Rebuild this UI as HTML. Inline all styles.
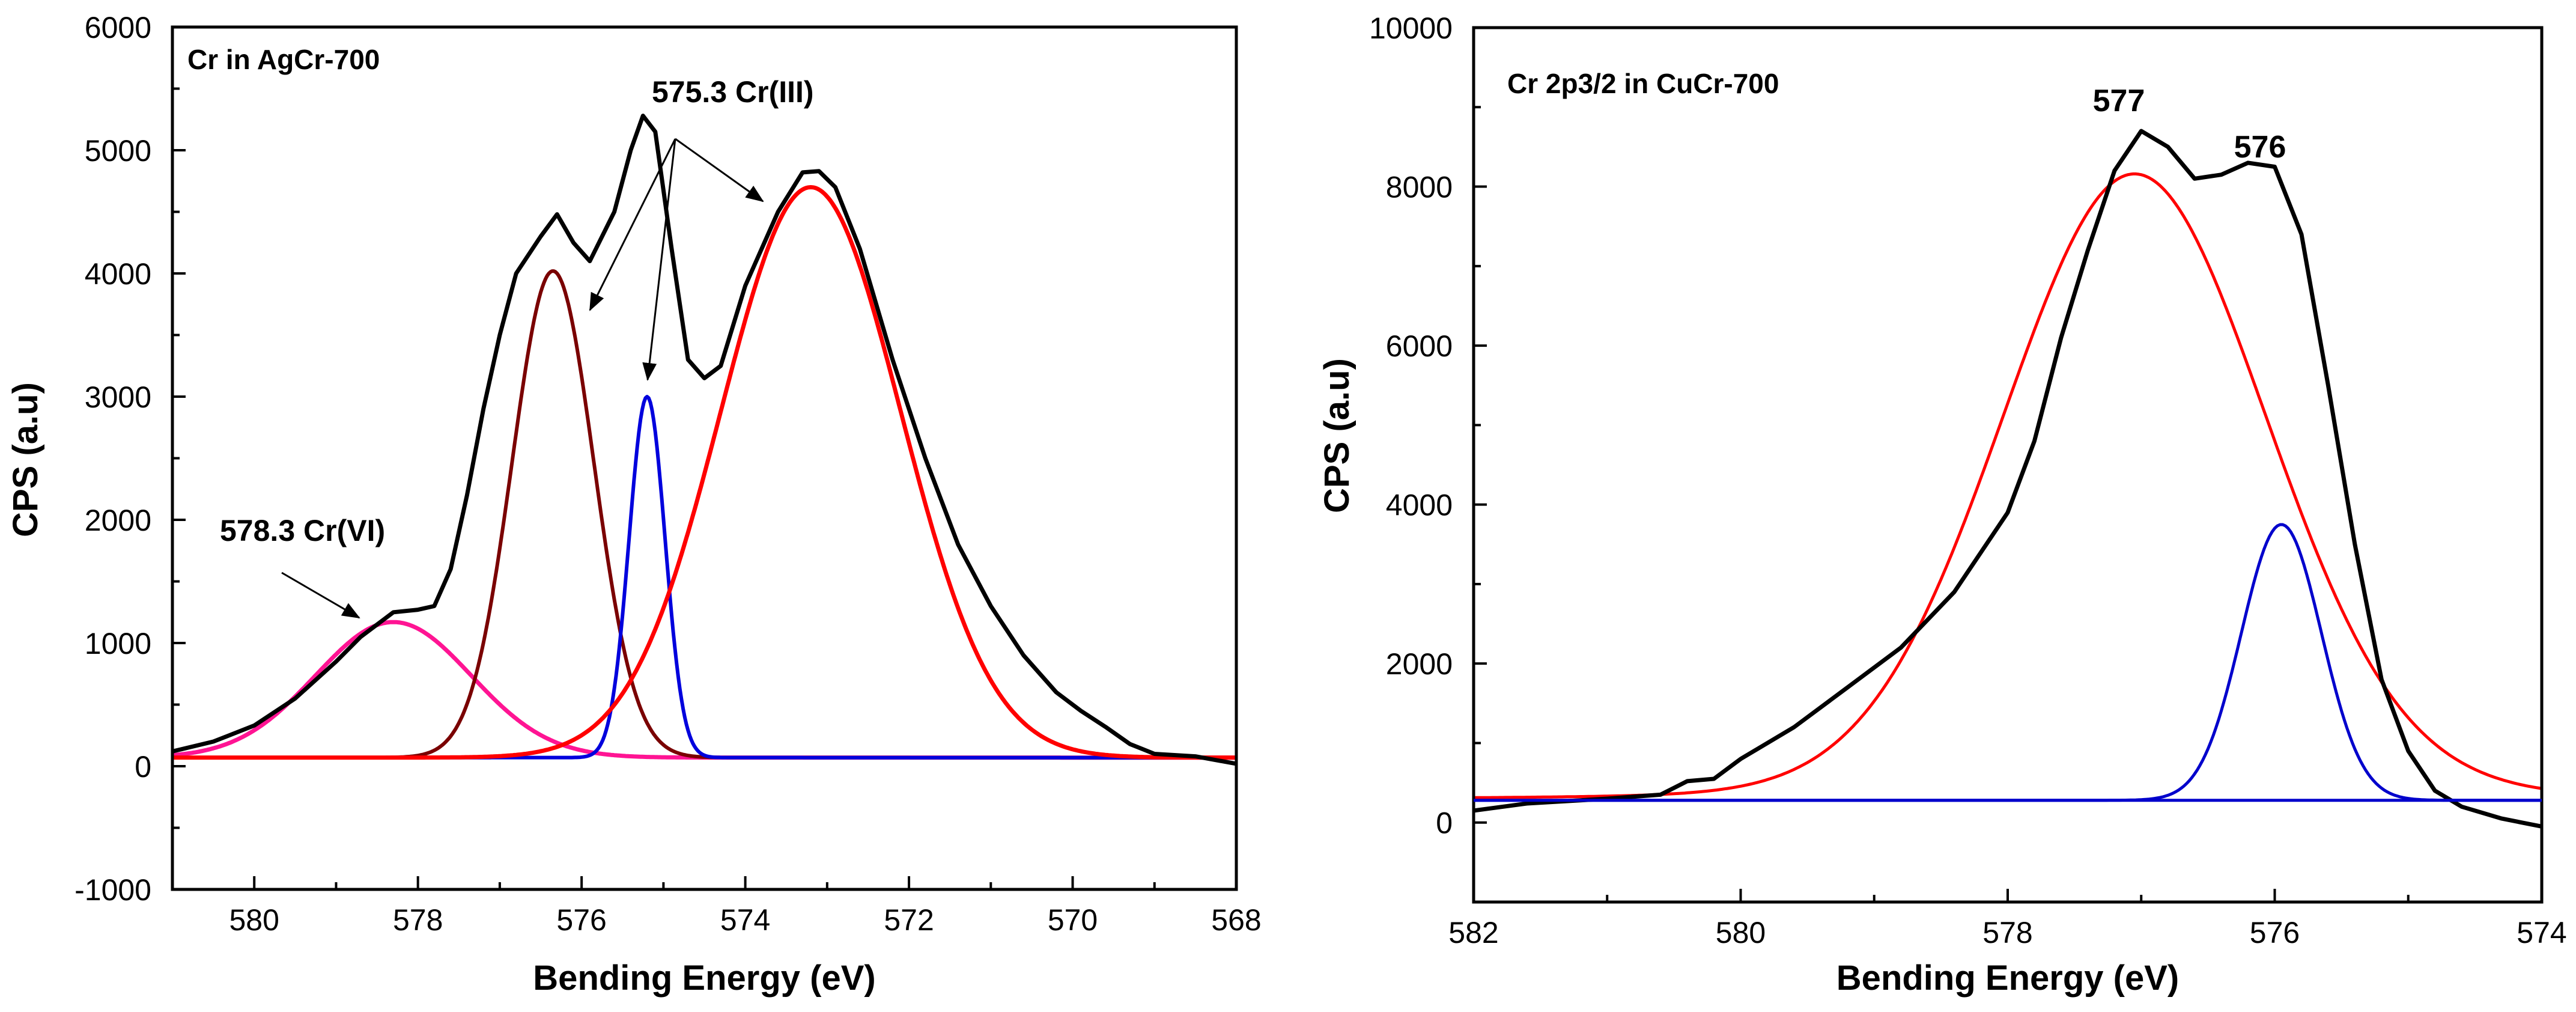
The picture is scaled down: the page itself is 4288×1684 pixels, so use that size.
<!DOCTYPE html>
<html><head><meta charset="utf-8"><style>
html,body{margin:0;padding:0;background:#fff;}
svg{display:block;font-family:"Liberation Sans",Arial,sans-serif;}
</style></head><body>
<svg id="chart" width="4288" height="1684" viewBox="0 0 4288 1684" xmlns="http://www.w3.org/2000/svg"></svg>
<script>
// ---- Left panel data (Cr in AgCr-700) ----
const leftBlackE = [581,580.5,580,579.5,579,578.7,578.5,578.3,578,577.8,577.6,577.4,577.2,577,576.8,576.5,576.3,576.1,575.9,575.6,575.4,575.25,575.1,574.9,574.7,574.5,574.3,574,573.6,573.3,573.1,572.9,572.6,572.2,571.8,571.4,571,570.6,570.2,569.9,569.6,569.3,569,568.5,568];
const leftBlackV = [120,200,330,550,850,1050,1150,1250,1270,1300,1600,2200,2900,3500,4000,4300,4480,4250,4100,4500,5000,5280,5150,4200,3300,3150,3250,3900,4500,4820,4830,4700,4200,3300,2500,1800,1300,900,600,450,320,180,100,80,20];
const leftPeakNames = ['pink-cr6','brown-peak','blue-peak','red-cr3'];
const leftCenters = [578.3,576.35,575.2,573.2];
const leftHeights = [1100,3950,2930,4630];
const leftSigmas = [0.95,0.5,0.22,1.1];
const leftColors = ['#ff1493','#7a0000','#0000dd','#ff0000'];
const leftBaseline = 70;
const leftYTicks = [-1000,0,1000,2000,3000,4000,5000,6000];
const leftXTicks = [580,578,576,574,572,570,568];
// ---- Right panel data (Cr 2p3/2 in CuCr-700) ----
const rightBlackE = [582,581.6,581.2,581,580.6,580.4,580.2,580,579.6,579.2,578.8,578.4,578,577.8,577.6,577.4,577.2,577,576.8,576.6,576.4,576.2,576,575.8,575.6,575.4,575.2,575,574.8,574.6,574.3,574];
const rightBlackV = [150,240,280,300,350,520,550,800,1200,1700,2200,2900,3900,4800,6100,7200,8200,8700,8500,8100,8150,8300,8250,7400,5500,3500,1800,900,400,200,50,-50];
const rightPeakNames = ['red-577','blue-576'];
const rightCenters = [577.05,575.95];
const rightHeights = [7880,3470];
const rightSigmas = [1.0,0.3];
const rightColors = ['#ff0000','#0000cc'];
const rightBaseline = 280;
const rightYTicks = [0,2000,4000,6000,8000,10000];
const rightXTicks = [582,580,578,576,574];

const NS='http://www.w3.org/2000/svg';
const svg=document.getElementById('chart');
function mk(tag,attrs,parent){const e=document.createElementNS(NS,tag);for(const k in attrs)e.setAttribute(k,attrs[k]);(parent||svg).appendChild(e);return e;}

function panel(cfg){
  const g=mk('g',{});
  
  
  const xs=e=>cfg.x0+(cfg.eMax-e)/(cfg.eMax-cfg.eMin)*(cfg.x1-cfg.x0);
  const ys=v=>cfg.y1-(v-cfg.vMin)/(cfg.vMax-cfg.vMin)*(cfg.y1-cfg.y0);
  const cid='clip-'+cfg.name;
  const defs=mk('defs',{},g);const cp=mk('clipPath',{id:cid},defs);
  mk('rect',{x:cfg.x0,y:cfg.y0,width:cfg.x1-cfg.x0,height:cfg.y1-cfg.y0},cp);
  const plot=mk('g',{'clip-path':'url(#'+cid+')'},g);
  for(let i=0;i<cfg.centers.length;i++){
    let d='';
    for(let e=cfg.eMax;e>=cfg.eMin-0.001;e-=0.02){
      const z=(e-cfg.centers[i])/cfg.sigmas[i];
      let v=Math.exp(-0.5*z*z);
      if(cfg.lor&&i===0){const L=1/(1+z*z*0.75);v=0.92*v+0.08*L;}
      v=cfg.baseline+cfg.heights[i]*v;
      d+=(d?'L':'M')+xs(e).toFixed(1)+','+ys(v).toFixed(1);
    }
    const p=mk('path',{d:d,fill:'none',stroke:cfg.colors[i],'stroke-width':cfg.cw[i],'stroke-linejoin':'round'},plot);
    
    
  }
  let d='';
  for(let i=0;i<cfg.bE.length;i++)d+=(i?'L':'M')+xs(cfg.bE[i]).toFixed(1)+','+ys(cfg.bV[i]).toFixed(1);
  const bp=mk('path',{d:d,fill:'none',stroke:'#000','stroke-width':7,'stroke-linejoin':'round'},plot);
  
  
  const box=mk('rect',{x:cfg.x0,y:cfg.y0,width:cfg.x1-cfg.x0,height:cfg.y1-cfg.y0,fill:'none',stroke:'#000','stroke-width':5},g);
  
  
  for(let i=0;i<cfg.yT.length;i++){
    const v=cfg.yT[i],y=ys(v);
    mk('line',{x1:cfg.x0,x2:cfg.x0+22,y1:y,y2:y,stroke:'#000','stroke-width':4},g);
    const t=mk('text',{x:cfg.x0-35,y:y+18,'font-size':50,'text-anchor':'end',fill:'#000'},g);
    t.textContent=v;
    
    
    if(i<cfg.yT.length-1){const ym=ys(v+cfg.yMinor);mk('line',{x1:cfg.x0,x2:cfg.x0+12,y1:ym,y2:ym,stroke:'#000','stroke-width':4},g);}
  }
  for(let i=0;i<cfg.xT.length;i++){
    const e=cfg.xT[i],x=xs(e);
    mk('line',{x1:x,x2:x,y1:cfg.y1,y2:cfg.y1-22,stroke:'#000','stroke-width':4},g);
    const t=mk('text',{x:x,y:cfg.y1+68,'font-size':50,'text-anchor':'middle',fill:'#000'},g);
    t.textContent=e;
    
    
    const em=e+1;
    if(em<cfg.eMax){const xm=xs(em);mk('line',{x1:xm,x2:xm,y1:cfg.y1,y2:cfg.y1-12,stroke:'#000','stroke-width':4},g);}
  }
  const xt=mk('text',{x:(cfg.x0+cfg.x1)/2,y:1647,'font-size':58,'font-weight':'bold','text-anchor':'middle'},g);
  xt.textContent='Bending Energy (eV)';
  
  
  const yt=mk('text',{x:0,y:0,'font-size':58,'font-weight':'bold','text-anchor':'middle',transform:'translate('+cfg.ytx+','+cfg.yty+') rotate(-90)'},g);
  yt.textContent='CPS (a.u)';
  
  
  return {g,xs,ys};
}

const L=panel({name:'left-panel',x0:287,x1:2058,y0:45,y1:1480,eMax:581,eMin:568,vMin:-1000,vMax:6000,
  centers:leftCenters,heights:leftHeights,sigmas:leftSigmas,colors:leftColors,peakNames:leftPeakNames,cw:[7,6,6,7],
  baseline:leftBaseline,bE:leftBlackE,bV:leftBlackV,yT:leftYTicks,xT:leftXTicks,yMinor:500,ytx:62,yty:765});
const R=panel({name:'right-panel',x0:2453,x1:4231,y0:46,y1:1501,eMax:582,eMin:574,vMin:-1000,vMax:10000,lor:true,
  centers:rightCenters,heights:rightHeights,sigmas:rightSigmas,colors:rightColors,peakNames:rightPeakNames,cw:[5,5],
  baseline:rightBaseline,bE:rightBlackE,bV:rightBlackV,yT:rightYTicks,xT:rightXTicks,yMinor:1000,ytx:2245,yty:725});
const bl=mk('line',{x1:2453,x2:4231,y1:R.ys(rightBaseline),y2:R.ys(rightBaseline),stroke:'#0000cc','stroke-width':5});



function label(txt,x,y,size,name,anchor){const t=mk('text',{x:x,y:y,'font-size':size,'font-weight':'bold','text-anchor':anchor||'start'});t.textContent=txt;return t;}
label('Cr in AgCr-700',312,115,46,'panel-title-left');
label('575.3 Cr(III)',1085,170,50,'cr3-annotation');
label('578.3 Cr(VI)',366,900,50,'cr6-annotation');
label('Cr 2p3/2 in CuCr-700',2509,155,46,'panel-title-right');
label('577',3527,185,52,'peak-577-label','middle');
label('576',3762,262,52,'peak-576-label','middle');

const defs=mk('defs',{});
const mkr=mk('marker',{id:'ah',orient:'auto',markerUnits:'userSpaceOnUse'},defs);
mkr.setAttribute('markerWidth',30);mkr.setAttribute('markerHeight',24);mkr.setAttribute('refX',28);mkr.setAttribute('refY',12);
mk('path',{d:'M0,0 L30,12 L0,24 Z',fill:'#000'},mkr);
function arrow(x1,y1,x2,y2,name){const a=mk('line',{x1,y1,x2,y2,stroke:'#000','stroke-width':3,'marker-end':'url(#ah)'});}
arrow(1124,231,982,516,'arrow-to-brown');
arrow(1124,231,1078,632,'arrow-to-blue');
arrow(1124,231,1270,335,'arrow-to-red');
arrow(469,953,598,1028,'arrow-to-pink');
</script>
</body></html>
